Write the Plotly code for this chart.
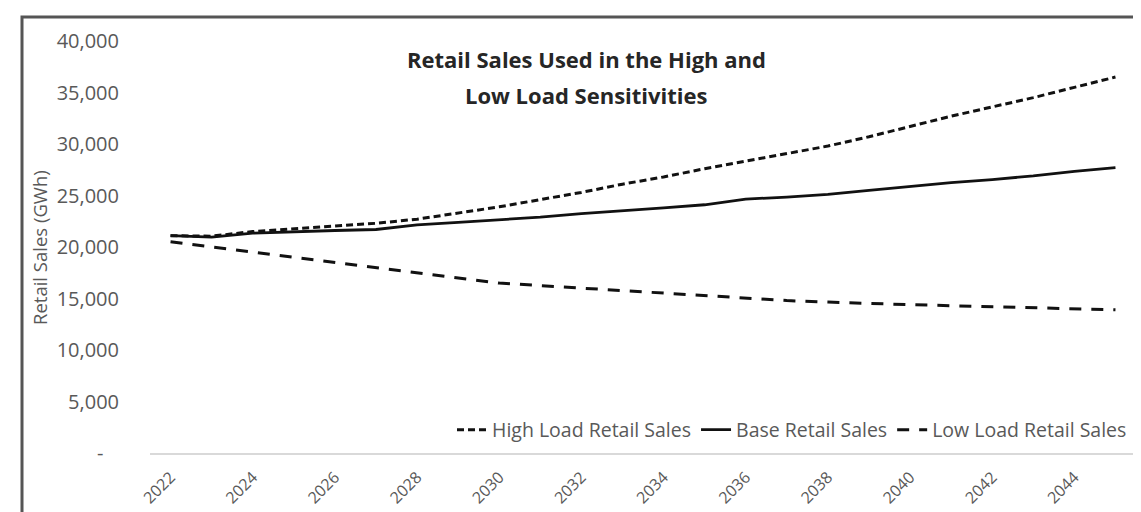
import plotly.graph_objects as go

years = list(range(2022, 2046))
high_load = [21100, 21050, 21500, 21750, 22000, 22300, 22700, 23300, 23900, 24600,
             25300, 26100, 26800, 27600, 28350, 29100, 29800, 30700, 31700, 32700,
             33600, 34500, 35500, 36500]
base_load = [21100, 20950, 21350, 21500, 21600, 21700, 22150, 22400, 22650, 22900,
             23250, 23500, 23800, 24100, 24650, 24850, 25100, 25500, 25900, 26250,
             26550, 26900, 27350, 27700]
low_load = [20500, 20000, 19500, 19000, 18500, 18000, 17500, 17000, 16500, 16250,
            16000, 15750, 15500, 15250, 15050, 14800, 14650, 14500, 14400, 14300,
            14200, 14100, 14000, 13900]
y_ticks = [0, 5000, 10000, 15000, 20000, 25000, 30000, 35000, 40000]
y_tick_text = ["-\u00a0\u00a0\u00a0", "5,000", "10,000", "15,000", "20,000", "25,000",
               "30,000", "35,000", "40,000"]
x_ticks = years[::2]
title_lines = ["Retail Sales Used in the High and", "Low Load Sensitivities"]
y_title = "Retail Sales (GWh)"

W, H = 1141, 512
ML, MR, MT, MB = 142, 13, 33, 67
PW, PH = W - ML - MR, H - MT - MB

def px_x(px):
    return (px - ML) / PW

def px_y(py):
    return (H - MB - py) / PH

FONT = "Open Sans"
GRAY = "#595959"

fig = go.Figure()
fig.add_trace(go.Scatter(x=years, y=high_load, mode="lines", name="High Load Retail Sales",
                         line=dict(color="#111111", width=3, dash="7px,4px")))
fig.add_trace(go.Scatter(x=years, y=base_load, mode="lines", name="Base Retail Sales",
                         line=dict(color="#111111", width=2.8)))
fig.add_trace(go.Scatter(x=years, y=low_load, mode="lines", name="Low Load Retail Sales",
                         line=dict(color="#111111", width=3, dash="12px,10px")))

fig.update_layout(
    width=W, height=H,
    margin=dict(l=ML, r=MR, t=MT, b=MB, autoexpand=False),
    paper_bgcolor="white", plot_bgcolor="white",
    font=dict(family=FONT, color=GRAY, size=17),
    showlegend=True,
    legend=dict(orientation="h", x=px_x(444), xanchor="left", y=px_y(422), yanchor="middle",
                bgcolor="rgba(0,0,0,0)", font=dict(size=19.5, color=GRAY),
                itemwidth=30, tracegroupgap=0),
    xaxis=dict(range=[2021.5, 2045.5], tickmode="array", tickvals=x_ticks,
               tickangle=-45, showgrid=False, zeroline=False, ticks="",
               showline=True, linecolor="#d9d9d9", linewidth=1.5,
               tickfont=dict(size=16, color=GRAY), ticklabelstandoff=7),
    yaxis=dict(range=[0, 40000], tickmode="array", tickvals=y_ticks, ticktext=y_tick_text,
               showgrid=False, zeroline=False, ticks="", showline=False,
               tickfont=dict(size=20, color=GRAY), ticklabelstandoff=30),
    shapes=[dict(type="rect", xref="paper", yref="paper",
                 x0=px_x(14), x1=px_x(W + 20), y0=px_y(H + 20), y1=px_y(9),
                 line=dict(color="#555555", width=3), fillcolor="rgba(0,0,0,0)", layer="above")],
    annotations=[
        dict(text="<b>%s</b>" % title_lines[0], xref="paper", yref="paper",
             x=px_x(578), y=px_y(51), xanchor="center", yanchor="middle", showarrow=False,
             font=dict(family=FONT, size=22, color="#262626")),
        dict(text="<b>%s</b>" % title_lines[1], xref="paper", yref="paper",
             x=px_x(578), y=px_y(87), xanchor="center", yanchor="middle", showarrow=False,
             font=dict(family=FONT, size=22, color="#262626")),
        dict(text=y_title, xref="paper", yref="paper", x=px_x(31), y=px_y(240),
             xanchor="center", yanchor="middle", textangle=-90, showarrow=False,
             font=dict(family=FONT, size=18.5, color=GRAY)),
    ],
)

fig.write_html("out.html")
